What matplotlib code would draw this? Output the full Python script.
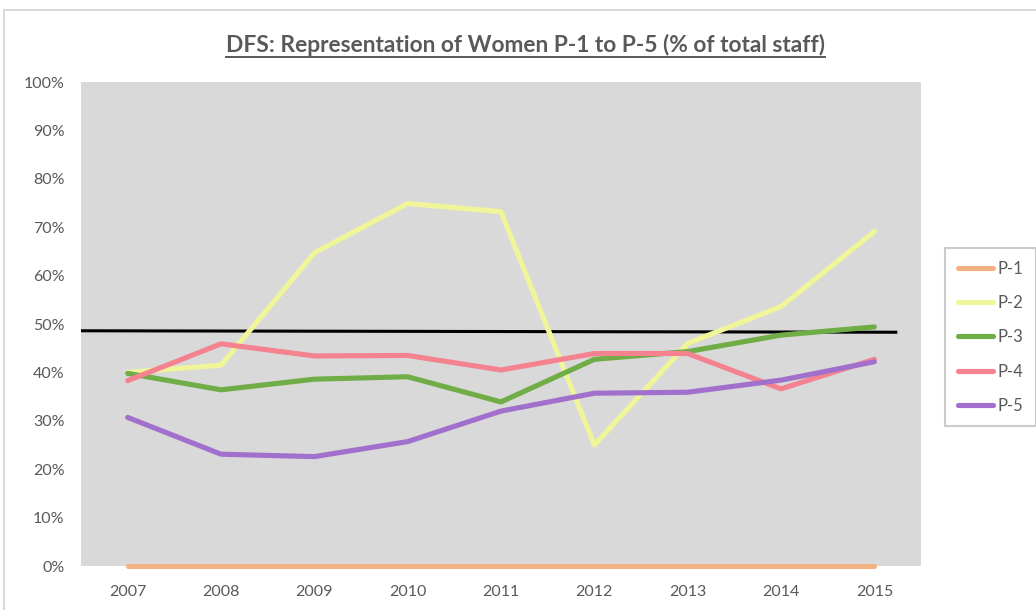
import matplotlib
matplotlib.use("Agg")
import matplotlib.pyplot as plt
from matplotlib.lines import Line2D
from matplotlib.patches import Rectangle
from matplotlib.ticker import FuncFormatter

plt.rcParams['font.family'] = ['Lato', 'DejaVu Sans']

years = ["2007", "2008", "2009", "2010", "2011", "2012", "2013", "2014", "2015"]
p1 = [0, 0, 0, 0, 0, 0, 0, 0, 0]
p2 = [40.0, 41.5, 64.7, 74.9, 73.2, 25.0, 46.0, 53.6, 69.1]
p3 = [39.8, 36.4, 38.6, 39.1, 33.9, 42.7, 44.3, 47.7, 49.4]
p4 = [38.3, 45.9, 43.4, 43.5, 40.5, 43.9, 43.9, 36.6, 42.7]
p5 = [30.7, 23.1, 22.6, 25.7, 32.0, 35.7, 35.9, 38.4, 42.2]
series_names = ["P-1", "P-2", "P-3", "P-4", "P-5"]
ref_line = [48.6, 48.3]  # hand-drawn black reference line

colors = ["#F4B183", "#F0F59A", "#70AD47", "#F5828F", "#A070CC"]
grey = "#595959"

fig = plt.figure(figsize=(10.36, 6.10), dpi=100)
ax = fig.add_axes([81 / 1036, 44 / 610, 840 / 1036, 484 / 610])
ax.set_facecolor("#D9D9D9")

x = list(range(len(years)))
for name, vals, c in zip(series_names, [p1, p2, p3, p4, p5], colors):
    ax.plot(x, vals, color=c, lw=3.7, solid_capstyle="round",
            solid_joinstyle="round", label=name, clip_on=(name != "P-1"),
            zorder=3 if name != "P-1" else 4)

ax.plot([-0.5, 8.23], ref_line, color="black", lw=2.2, zorder=2)

ax.set_xlim(-0.5, len(years) - 0.5)
ax.set_ylim(0, 100)
ax.set_xticks(x)
ax.set_xticklabels(years)
ax.set_yticks(range(0, 101, 10))
ax.yaxis.set_major_formatter(FuncFormatter(lambda v, p: f"{int(v)}%"))
ax.tick_params(length=0, labelsize=11.5, colors=grey)
ax.tick_params(axis="x", pad=14)
ax.tick_params(axis="y", pad=12)
for s in ax.spines.values():
    s.set_visible(False)

# chart border
fig.patches.append(Rectangle((4 / 1036, -0.1), 1.2, 1 - 10 / 610 + 0.1,
                             transform=fig.transFigure, fill=False,
                             edgecolor="#D9D9D9", lw=1.5))

title = fig.text(525 / 1036, 1 - 45 / 610,
                 "DFS: Representation of Women P-1 to P-5 (% of total staff)",
                 ha="center", va="center", fontsize=16.4, fontweight="bold",
                 color=grey)
fig.canvas.draw()
bb = title.get_window_extent()
fig.add_artist(Line2D([bb.x0 / 1036, bb.x1 / 1036],
                      [(bb.y0 - 1) / 610, (bb.y0 - 1) / 610],
                      transform=fig.transFigure, color=grey, lw=1.4))

leg = ax.legend(loc="upper left", bbox_to_anchor=(945 / 1036, 1 - 248 / 610),
                bbox_transform=fig.transFigure, frameon=True, fancybox=False,
                fontsize=12, labelspacing=1.1, handlelength=2.1,
                handletextpad=0.3, borderpad=0.75, borderaxespad=0)
leg.get_frame().set_edgecolor("#BFBFBF")
leg.get_frame().set_linewidth(1.5)
for t in leg.get_texts():
    t.set_color(grey)

fig.savefig("out.png", dpi=100)
